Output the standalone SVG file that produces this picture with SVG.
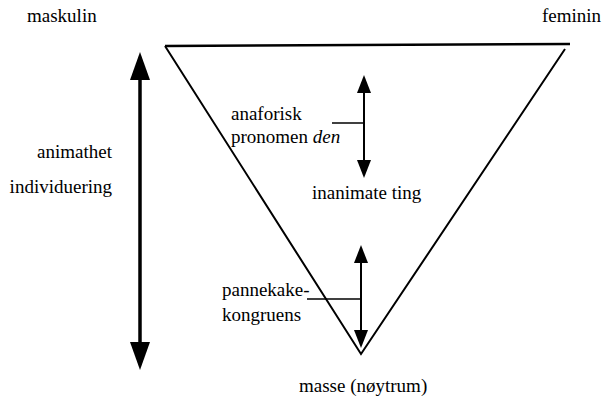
<svg xmlns="http://www.w3.org/2000/svg" width="603" height="397" viewBox="0 0 603 397">
<defs>
<style>
text{font-family:"Liberation Serif","Times New Roman",serif;font-size:19px;fill:#000}
.ln{stroke:#000;fill:none}
.hd{fill:#000;stroke:none}
</style>
</defs>
<rect width="603" height="397" fill="#fff"/>
<g id="triangle">
<path class="ln" stroke-width="2.5" d="M165,46 L570,44"/>
<path class="ln" stroke-width="2" d="M165,46 L361,354 L565,49"/>
</g>
<g id="connectors">
<path class="ln" stroke-width="3.5" d="M140,76 L140,346"/>
<path class="hd" d="M140,52 L150,80 L130,80 Z"/>
<path class="hd" d="M140,370 L150,342 L130,342 Z"/>
<path class="ln" stroke-width="2" d="M364,88 L364,165"/>
<path class="hd" d="M364,75 L371,93 L357,93 Z"/>
<path class="hd" d="M364,178 L371,160 L357,160 Z"/>
<path class="ln" stroke-width="1.5" d="M332,123 L364,123"/>
<path class="ln" stroke-width="2" d="M361,258 L361,335"/>
<path class="hd" d="M361,245 L368,263 L354,263 Z"/>
<path class="hd" d="M361,348 L368,330 L354,330 Z"/>
<path class="ln" stroke-width="1.5" d="M307,299 L361,299"/>
</g>
<g id="maskulin"><text x="27" y="22">maskulin</text></g>
<g id="feminin"><text x="601" y="22" text-anchor="end">feminin</text></g>
<g id="animathet"><text x="112" y="158" text-anchor="end">animathet</text><text x="112" y="193" text-anchor="end">individuering</text></g>
<g id="anaforisk"><text x="231" y="120">anaforisk</text><text x="231" y="143">pronomen <tspan font-style="italic">den</tspan></text></g>
<g id="inanimate"><text x="312" y="199">inanimate ting</text></g>
<g id="pannekake"><text x="222" y="296">pannekake-</text><text x="222" y="321">kongruens</text></g>
<g id="masse"><text x="299" y="392">masse (nøytrum)</text></g>
</svg>
